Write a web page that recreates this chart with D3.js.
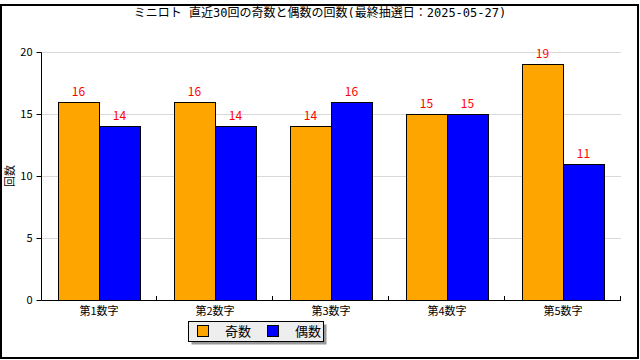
<!DOCTYPE html>
<html>
<head>
<meta charset="utf-8">
<script src="https://cdn.jsdelivr.net/npm/d3@7"></script>
<style>
  body { margin: 0; background: #fff; }
  text { font-family: "Noto Sans CJK JP", "DejaVu Sans", sans-serif; }
</style>
</head>
<body>
<div id="chart"></div>
<script>
// data
var categories = ["第1数字", "第2数字", "第3数字", "第4数字", "第5数字"];
var seriesNames = ["奇数", "偶数"];
var oddCounts = [16, 16, 14, 15, 19];
var evenCounts = [14, 14, 16, 15, 11];
var yTicks = [0, 5, 10, 15, 20];
var colors = ["#ffa500", "#0000ff"];

var width = 640, height = 360;
var margin = { top: 52, right: 19, bottom: 60, left: 41 };
var plotW = width - margin.left - margin.right;
var plotH = height - margin.top - margin.bottom;

var svg = d3.select("#chart").append("svg")
  .attr("width", width)
  .attr("height", height);

// outer frame
svg.append("rect")
  .attr("x", 1).attr("y", 5)
  .attr("width", 637).attr("height", 353)
  .attr("fill", "none")
  .attr("stroke", "#000")
  .attr("stroke-width", 2);

// title
svg.append("text")
  .attr("x", 320).attr("y", 17)
  .attr("text-anchor", "middle")
  .style("font-family", "'DejaVu Sans Mono', 'Noto Sans CJK JP', monospace")
  .style("font-size", "12px")
  .text("ミニロト 直近30回の奇数と偶数の回数(最終抽選日：2025-05-27)");

var g = svg.append("g")
  .attr("transform", "translate(" + margin.left + "," + margin.top + ")");

var xScale = d3.scaleBand()
  .domain(categories)
  .range([0, plotW]);

var yScale = d3.scaleLinear()
  .domain([0, 20])
  .range([plotH, 0]);

// grid lines
g.selectAll("line.grid")
  .data(yTicks.filter(function (d) { return d > 0; }))
  .enter().append("line")
  .attr("class", "grid")
  .attr("x1", 0).attr("x2", plotW)
  .attr("y1", function (d) { return Math.round(yScale(d)) + 0.5; })
  .attr("y2", function (d) { return Math.round(yScale(d)) + 0.5; })
  .attr("stroke", "#d9d9d9")
  .attr("stroke-width", 1);

// bars
var barW = 41;
var series = [oddCounts, evenCounts];
series.forEach(function (vals, si) {
  g.selectAll("rect.s" + si)
    .data(vals)
    .enter().append("rect")
    .attr("class", "s" + si)
    .attr("x", function (d, i) {
      var c = xScale(categories[i]) + xScale.bandwidth() / 2;
      return Math.round(c) - barW + si * barW + 0.5;
    })
    .attr("y", function (d) { return Math.round(yScale(d)) + 0.5; })
    .attr("width", barW)
    .attr("height", function (d) { return plotH - Math.round(yScale(d)); })
    .attr("fill", colors[si])
    .attr("stroke", "#000")
    .attr("stroke-width", 1);

  g.selectAll("text.v" + si)
    .data(vals)
    .enter().append("text")
    .attr("class", "v" + si)
    .attr("x", function (d, i) {
      var c = xScale(categories[i]) + xScale.bandwidth() / 2;
      return Math.round(c) - barW / 2 + si * barW;
    })
    .attr("y", function (d) { return yScale(d) - 6; })
    .attr("text-anchor", "middle")
    .attr("fill", "#ff0000")
    .style("font-size", "12px")
    .text(function (d) { return d; });
});

// y axis
var yAxis = d3.axisLeft(yScale).tickValues(yTicks).tickSize(5).tickPadding(4);
var yG = g.append("g").attr("transform", "translate(0.5,0)").call(yAxis);
yG.select(".domain").attr("d", "M0," + (plotH + 0.5) + "V0.5");
yG.selectAll("text").style("font-size", "11px").attr("fill", "#000");

// x axis
var xAxis = d3.axisBottom(xScale).tickSize(0).tickPadding(7);
var xG = g.append("g").attr("transform", "translate(0," + (plotH + 0.5) + ")").call(xAxis);
xG.select(".domain").attr("d", "M0.5,0H" + plotW);
xG.selectAll("text").style("font-size", "11px").attr("fill", "#000");

// category separators, ticking upward
g.selectAll("line.sep")
  .data(categories)
  .enter().append("line")
  .attr("class", "sep")
  .attr("x1", function (d) { return Math.round(xScale(d) + xScale.bandwidth()) - 0.5; })
  .attr("x2", function (d) { return Math.round(xScale(d) + xScale.bandwidth()) - 0.5; })
  .attr("y1", plotH).attr("y2", plotH - 4)
  .attr("stroke", "#000");

// y axis title
svg.append("text")
  .attr("transform", "translate(14," + (margin.top + plotH / 2) + ") rotate(-90)")
  .attr("text-anchor", "middle")
  .style("font-size", "11px")
  .text("回数");

// legend
var legend = svg.append("g").attr("transform", "translate(188,321)");
legend.append("rect")
  .attr("x", 3.5).attr("y", 3.5)
  .attr("width", 135).attr("height", 20)
  .attr("fill", "#999");
legend.append("rect")
  .attr("x", 0.5).attr("y", 0.5)
  .attr("width", 135).attr("height", 20)
  .attr("fill", "#eeeeee")
  .attr("stroke", "#000");
seriesNames.forEach(function (name, i) {
  var lx = 9 + i * 70;
  legend.append("text")
    .attr("x", lx + 28).attr("y", 15)
    .style("font-size", "13px")
    .text(name);
  legend.append("rect")
    .attr("x", lx + 0.5).attr("y", 4.5)
    .attr("width", 11).attr("height", 11)
    .attr("fill", colors[i])
    .attr("stroke", "#000");
});
</script>
</body>
</html>
